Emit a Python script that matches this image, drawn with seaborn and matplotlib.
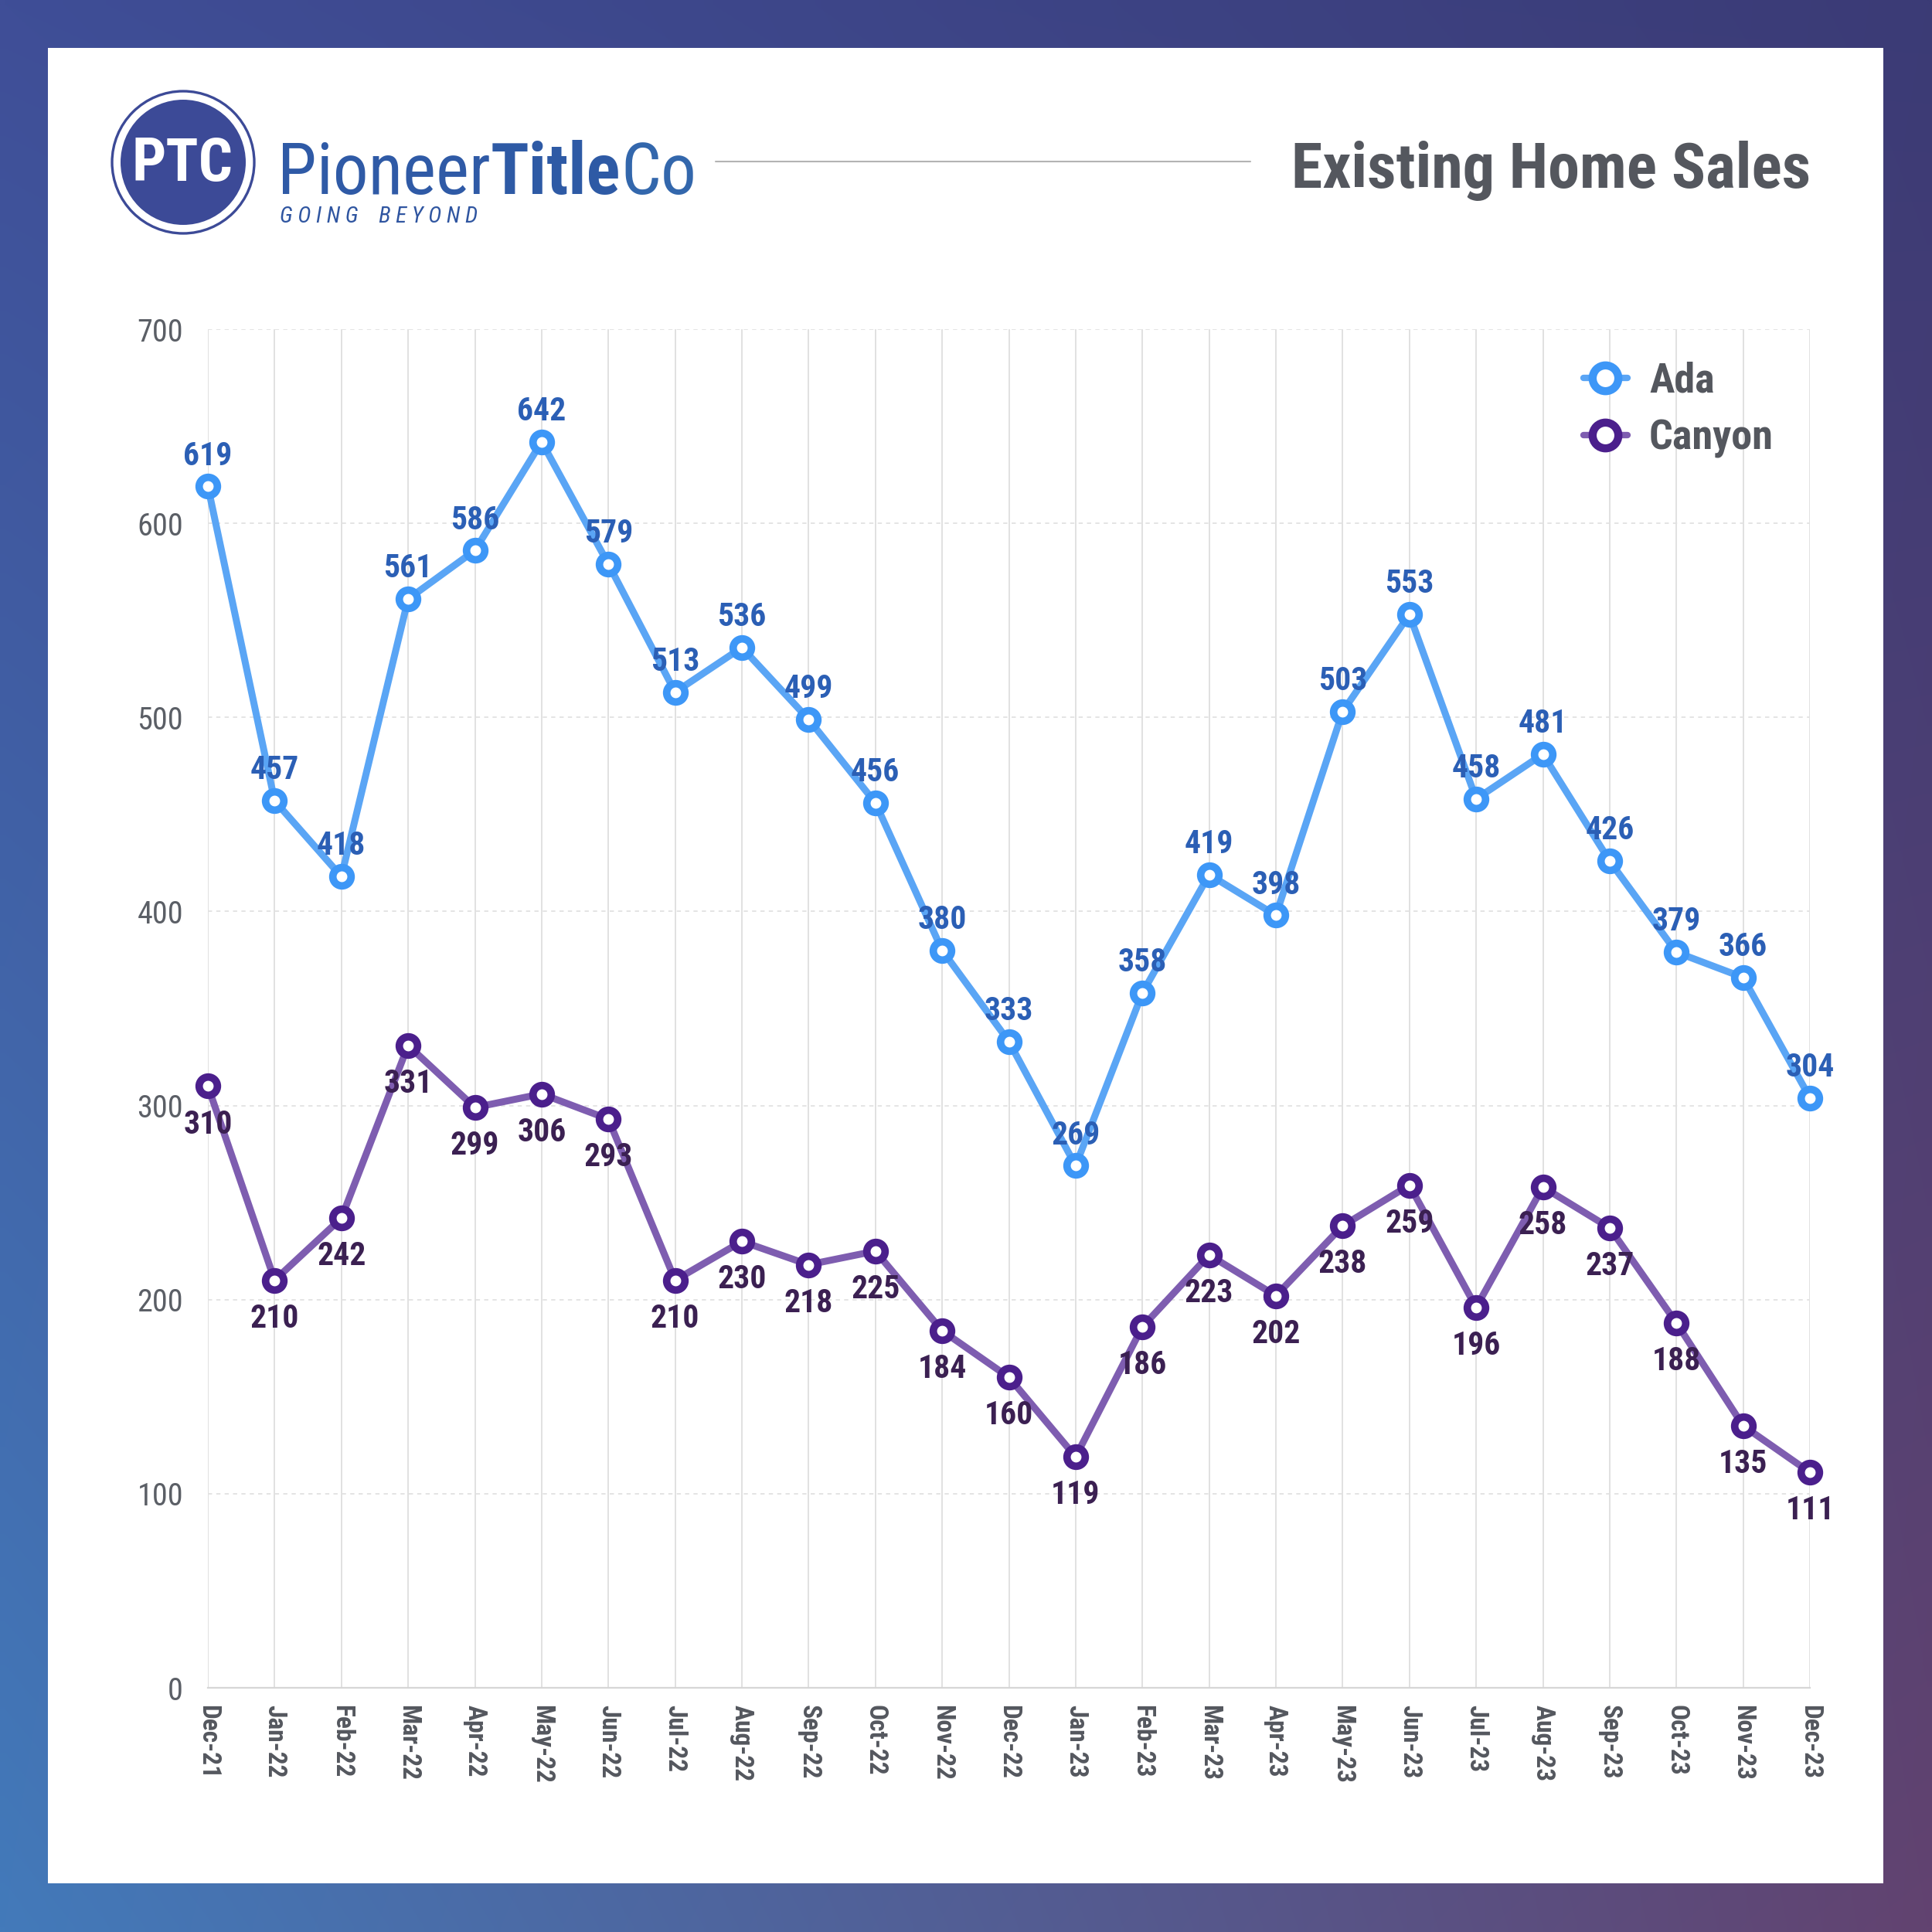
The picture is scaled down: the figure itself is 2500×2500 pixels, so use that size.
import numpy as np
import pandas as pd
import matplotlib
matplotlib.use("Agg")
import matplotlib.pyplot as plt
import seaborn as sns
from matplotlib import font_manager as fm
from matplotlib.patches import Circle, Rectangle
from matplotlib.lines import Line2D

# ---------------- data ----------------
months = ["Dec-21", "Jan-22", "Feb-22", "Mar-22", "Apr-22", "May-22", "Jun-22",
          "Jul-22", "Aug-22", "Sep-22", "Oct-22", "Nov-22", "Dec-22", "Jan-23",
          "Feb-23", "Mar-23", "Apr-23", "May-23", "Jun-23", "Jul-23", "Aug-23",
          "Sep-23", "Oct-23", "Nov-23", "Dec-23"]
ada = [619, 457, 418, 561, 586, 642, 579, 513, 536, 499, 456, 380, 333, 269,
       358, 419, 398, 503, 553, 458, 481, 426, 379, 366, 304]
canyon = [310, 210, 242, 331, 299, 306, 293, 210, 230, 218, 225, 184, 160, 119,
          186, 223, 202, 238, 259, 196, 258, 237, 188, 135, 111]
series_names = ["Ada", "Canyon"]
y_ticks = [0, 100, 200, 300, 400, 500, 600, 700]
title = "Existing Home Sales"

# ---------------- style ----------------
sns.set_theme(style="white")
avail = {f.name for f in fm.fontManager.ttflist}


def pick(cands):
    for n in cands:
        if n in avail:
            return n
    return "DejaVu Sans"


COND = pick(["Roboto Condensed", "Liberation Sans Narrow", "Roboto", "DejaVu Sans"])
plt.rcParams["font.family"] = [COND, "DejaVu Sans"]

ADA_LINE, ADA_EDGE, ADA_LBL = "#5aa5f5", "#3d97f7", "#2b5fb5"
CAN_LINE, CAN_EDGE, CAN_LBL = "#7e5db0", "#4b1f8c", "#3b2052"
GRAY_TXT = "#54575e"

W = 2500
fig = plt.figure(figsize=(25, 25), dpi=100)

# ---------------- background ----------------
bg = fig.add_axes([0, 0, 1, 1])
n = 200
tl = np.array([0x3f, 0x4e, 0x97]) / 255
tr = np.array([0x3b, 0x3b, 0x76]) / 255
bl = np.array([0x43, 0x7a, 0xba]) / 255
br = np.array([0x62, 0x43, 0x70]) / 255
u = np.linspace(0, 1, n)[None, :, None]
v = np.linspace(0, 1, n)[:, None, None]
grad = (1 - u) * (1 - v) * tl + u * (1 - v) * tr + (1 - u) * v * bl + u * v * br
bg.imshow(grad, extent=(0, W, W, 0), aspect="auto", zorder=0, interpolation="bilinear")
bg.set_xlim(0, W)
bg.set_ylim(W, 0)
bg.axis("off")
bg.add_patch(Rectangle((62, 62), 2375, 2375, fc="white", ec="none", zorder=1))

# logo
LOGO = "#3c4a97"
bg.add_patch(Circle((237, 210), 92, fill=False, ec=LOGO, lw=2.4, zorder=2))
bg.add_patch(Circle((237, 210), 81, fc=LOGO, ec="none", zorder=2))
bg.text(236, 213, "PTC", color="white", fontsize=56, fontweight="bold",
        ha="center", va="center", zorder=3)

fig.canvas.draw()
renderer = fig.canvas.get_renderer()
x0 = 359
base = 251
parts = [("Pioneer", "normal", "#2f5aa6"), ("Title", "bold", "#2e5aa5"), ("Co", "normal", "#3367ac")]
for txt, wt, col in parts:
    t = bg.text(x0, base, txt, fontsize=66, fontweight=wt, color=col,
                ha="left", va="baseline", zorder=3)
    bb = t.get_window_extent(renderer)
    x0 = bg.transData.inverted().transform((bb.x1, bb.y0))[0]

bg.text(362, 280, "G O I N G    B E Y O N D", fontsize=21, style="italic",
        color="#2f55a0", ha="left", va="center", zorder=3)
bg.plot([926, 1618], [209, 209], color="#b3b3b3", lw=1.5, zorder=2)
bg.text(2343, 243, title, fontsize=59, fontweight="bold", color=GRAY_TXT,
        ha="right", va="baseline", zorder=3)

# ---------------- chart ----------------
ax = fig.add_axes([269 / W, 1 - 2184 / W, (2342 - 269) / W, (2184 - 426) / W])
ax.set_facecolor("none")

df = pd.DataFrame({"month": months, "Ada": ada, "Canyon": canyon})
df["pos"] = np.arange(len(df))

for col, lc, ec in [("Ada", ADA_LINE, ADA_EDGE), ("Canyon", CAN_LINE, CAN_EDGE)]:
    sns.lineplot(data=df, x="pos", y=col, ax=ax, color=lc, lw=6.5, marker="o",
                 ms=17, mew=7, mec=ec, mfc="white", clip_on=False, zorder=4,
                 legend=False)
    ln = ax.lines[-1]
    ln.set_markerfacecolor("white")
    ln.set_markeredgecolor(ec)
    ln.set_markeredgewidth(7)
    ln.set_markersize(17)

for i, val in enumerate(df["Ada"]):
    ax.annotate(f"{val}", (i, val), xytext=(0, 20), textcoords="offset points",
                ha="center", va="baseline", fontsize=30, fontweight="bold",
                color=ADA_LBL, annotation_clip=False, zorder=5)
for i, val in enumerate(df["Canyon"]):
    ax.annotate(f"{val}", (i, val), xytext=(0, -44), textcoords="offset points",
                ha="center", va="baseline", fontsize=30, fontweight="bold",
                color=CAN_LBL, annotation_clip=False, zorder=5)

ax.set_xlim(0, len(months) - 1)
ax.set_ylim(y_ticks[0], y_ticks[-1])
ax.set_xticks(df["pos"])
ax.set_xticklabels(months, rotation=-90, fontsize=24, fontweight="bold", color=GRAY_TXT)
ax.set_yticks(y_ticks)
ax.set_yticklabels([str(t) for t in y_ticks], fontsize=29, color="#5b5f66")
ax.tick_params(axis="x", length=0, pad=16)
ax.tick_params(axis="y", length=0, pad=23)
ax.set_xlabel("")
ax.set_ylabel("")
ax.grid(axis="x", color="#dedede", lw=1.3, ls="-")
ax.grid(axis="y", color="#e2e2e2", lw=1.3, ls=(0, (3, 3)))
for s in ["top", "right", "left"]:
    ax.spines[s].set_visible(False)
ax.spines["bottom"].set_color("#d6d6d6")
ax.spines["bottom"].set_linewidth(1.6)
ax.set_axisbelow(True)

handles = [
    Line2D([], [], color=ADA_LINE, lw=6, marker="o", ms=24, mew=7.5, mfc="white", mec=ADA_EDGE),
    Line2D([], [], color=CAN_LINE, lw=6, marker="o", ms=24, mew=7.5, mfc="white", mec=CAN_EDGE),
]
leg = ax.legend(handles, series_names, loc="upper left",
                bbox_to_anchor=(2049 / W, 1 - 468 / W), bbox_transform=fig.transFigure,
                frameon=False, prop={"size": 39, "weight": "bold"},
                handlelength=1.05, handletextpad=0.52, labelspacing=0.42,
                borderpad=0, borderaxespad=0)
for t in leg.get_texts():
    t.set_color(GRAY_TXT)

fig.savefig("out.png", dpi=100)
